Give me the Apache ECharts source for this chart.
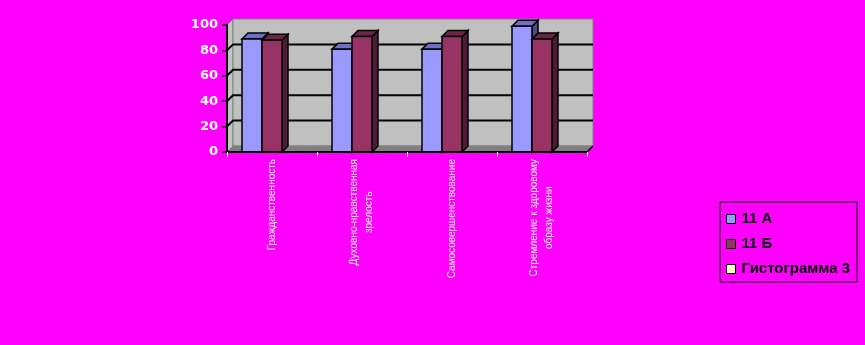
<!DOCTYPE html>
<html>
<head>
<meta charset="utf-8">
<script src="https://cdn.jsdelivr.net/npm/echarts@6/dist/echarts.min.js"></script>
<style>
html,body{margin:0;padding:0;background:#FF00FF;}
#chart{width:865px;height:345px;}
</style>
</head>
<body>
<div id="chart"></div>
<script>
var categories = [
  'Гражданственность',
  'Духовно-нравственная\nзрелость',
  'Самосовершенствование',
  'Стремление к здоровому\nобразу жизни'
];
var seriesNames = ['11 А', '11 Б', 'Гистограмма 3'];
var seriesColors = ['#9999FF', '#993366', '#FFFFCC'];
var valuesA = [89, 81, 81, 99];
var valuesB = [88, 91, 91, 89];
var valuesC = [];
var yTicks = [0, 20, 40, 60, 80, 100];

var DEPTH_WALL = 6;
var DEPTH_BAR = 6;

function wallRender(params, api) {
  var cs = params.coordSys;
  var L = cs.x, R = cs.x + cs.width, T = cs.y, B = cs.y + cs.height;
  var d = DEPTH_WALL;
  var children = [];
  children.push({type:'polygon', shape:{points:[[L,T],[L+d,T-d],[L+d,B-d],[L,B]]},
    style:{fill:'#C4C4C4', stroke:'#808080', lineWidth:1}});
  children.push({type:'rect', shape:{x:L+d, y:T-d, width:R-L, height:B-T},
    style:{fill:'#C0C0C0', stroke:'#808080', lineWidth:1}});
  children.push({type:'polygon', shape:{points:[[L,B],[L+d,B-d],[R+d,B-d],[R,B]]},
    style:{fill:'#808080', stroke:'#808080', lineWidth:1}});
  for (var i = 1; i < yTicks.length - 1; i++) {
    var y = api.coord([0, yTicks[i]])[1];
    children.push({type:'polyline', shape:{points:[[L,y],[L+d,y-d],[R+d,y-d]]},
      style:{fill:null, stroke:'#000', lineWidth:2}});
  }
  children.push({type:'line', shape:{x1:R, y1:B, x2:R+d, y2:B-d}, style:{stroke:'#000', lineWidth:1.5}});
  return {type:'group', children: children};
}

function barRender(slot, cFront, cTop, cSide) {
  return function(params, api) {
    var idx = api.value(0), v = api.value(1);
    var p = api.coord([idx, v]);
    var b = api.coord([idx, 0]);
    var band = api.size([1, 0])[0];
    var bw = band * 2 / 9;
    var d = DEPTH_BAR;
    var x0 = p[0] - 1.5 * bw + slot * bw, x1 = x0 + bw;
    var yt = p[1], yb = b[1];
    var st = {stroke:'#000', lineWidth:1.5, lineJoin:'miter'};
    return {type:'group', children:[
      {type:'polygon', shape:{points:[[x1,yt],[x1+d,yt-d],[x1+d,yb-d],[x1,yb]]},
        style:Object.assign({fill:cSide}, st)},
      {type:'polygon', shape:{points:[[x0,yt],[x0+d,yt-d],[x1+d,yt-d],[x1,yt]]},
        style:Object.assign({fill:cTop}, st)},
      {type:'rect', shape:{x:x0, y:yt, width:bw, height:yb-yt},
        style:Object.assign({fill:cFront}, st)}
    ]};
  };
}

function toData(arr) { return arr.map(function(v, i){ return [i, v]; }); }

var chart = echarts.init(document.getElementById('chart'), null, {renderer:'canvas'});
chart.setOption({
  backgroundColor: '#FF00FF',
  animation: false,
  grid: {left: 227, top: 25, width: 360, height: 127},
  legend: {
    orient: 'vertical',
    left: 720, top: 202,
    data: seriesNames.map(function(n, i){
      return {name:n, itemStyle:{color:seriesColors[i], borderColor:'#000', borderWidth:1}};
    }),
    icon: 'rect',
    itemWidth: 9, itemHeight: 9, itemGap: 9,
    padding: [9, 7, 5, 6],
    borderColor: '#000', borderWidth: 1,
    selectedMode: false,
    textStyle: {color:'#000', fontFamily:'Liberation Sans, Arial, sans-serif', fontSize:15, fontWeight:'bold',
      lineHeight:16, padding:[0,0,0,1],
      textShadowColor:'#fff', textShadowOffsetX:1, textShadowOffsetY:1, textShadowBlur:0}
  },
  xAxis: {
    type: 'category',
    data: categories,
    boundaryGap: true,
    z: 5,
    axisLine: {show:true, lineStyle:{color:'#000', width:2}},
    axisTick: {show:true, length:5, lineStyle:{color:'#fff', width:1}},
    axisLabel: {
      rotate: 90, interval: 0, margin: 7, color:'#fff',
      fontFamily:'Liberation Sans, Arial, sans-serif', fontSize: 10,
      formatter: function(v){ return v.split('\n').map(function(s){ return '{c|' + s + '}'; }).join('\n'); },
      rich: {c: {align:'center', color:'#fff', fontSize:10, fontFamily:'Liberation Sans, Arial, sans-serif', lineHeight:15}}
    },
    splitLine: {show:false}
  },
  yAxis: {
    type: 'value',
    min: 0, max: 100, interval: 20,
    z: 5,
    axisLine: {show:true, lineStyle:{color:'#000', width:2}},
    axisTick: {show:true, length:5, lineStyle:{color:'#000', width:1.5}},
    axisLabel: {margin: 9, color:'#fff', fontFamily:'DejaVu Sans, sans-serif', fontSize:13, fontWeight:'bold',
      textShadowColor:'#000', textShadowOffsetX:1, textShadowOffsetY:1, textShadowBlur:0},
    splitLine: {show:false}
  },
  series: [
    {type:'custom', name:'walls', renderItem: wallRender, data: [[0, 0]], silent:true, z:1},
    {type:'custom', name: seriesNames[0], renderItem: barRender(0, seriesColors[0], '#6E6EC4', '#4D4D85'),
      data: toData(valuesA), z:2, itemStyle:{color:seriesColors[0]}},
    {type:'custom', name: seriesNames[1], renderItem: barRender(1, seriesColors[1], '#6E2449', '#4F1A35'),
      data: toData(valuesB), z:3, itemStyle:{color:seriesColors[1]}},
    {type:'custom', name: seriesNames[2], renderItem: barRender(2, seriesColors[2], '#CCCCA3', '#99997A'),
      data: toData(valuesC), z:4, itemStyle:{color:seriesColors[2]}}
  ]
});
</script>
</body>
</html>
